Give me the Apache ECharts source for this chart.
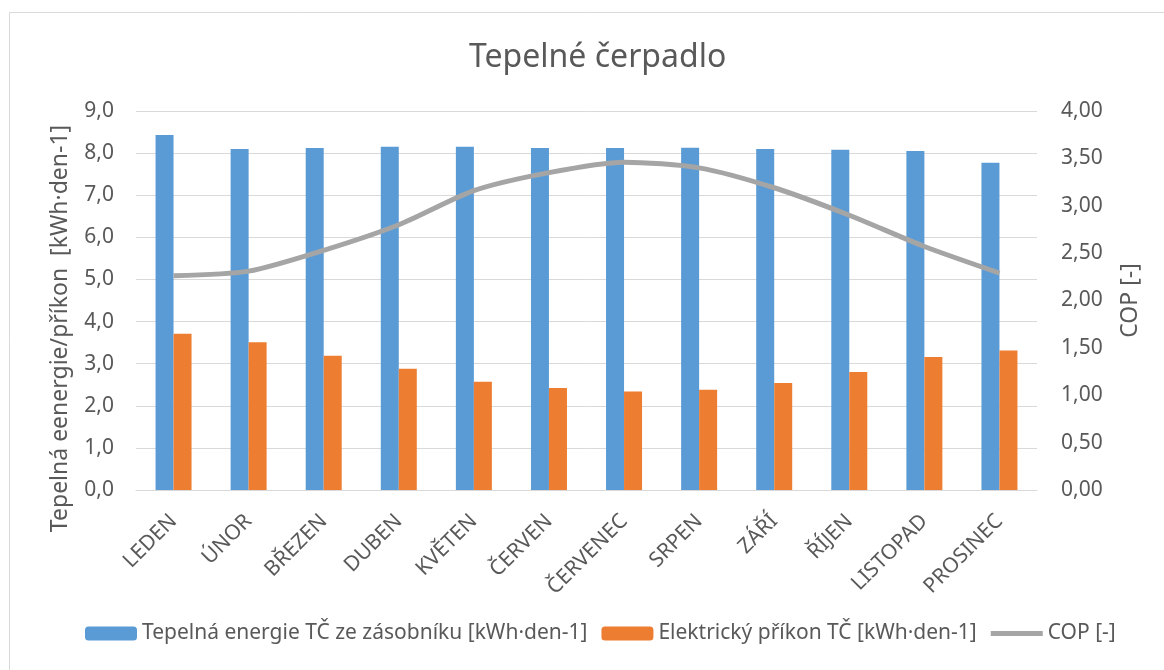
<!DOCTYPE html>
<html>
<head>
<meta charset="utf-8">
<script src="https://cdn.jsdelivr.net/npm/echarts@6/dist/echarts.min.js"></script>
<style>
  html, body { margin: 0; padding: 0; background: #fff; }
  #chart { width: 1164px; height: 670px; }
</style>
</head>
<body>
<div id="chart"></div>
<script>
const months = ['LEDEN', 'ÚNOR', 'BŘEZEN', 'DUBEN', 'KVĚTEN', 'ČERVEN', 'ČERVENEC', 'SRPEN', 'ZÁŘÍ', 'ŘÍJEN', 'LISTOPAD', 'PROSINEC']
const heatEnergy = [8.43, 8.10, 8.12, 8.15, 8.15, 8.12, 8.12, 8.13, 8.10, 8.08, 8.05, 7.77]
const elecInput = [3.71, 3.51, 3.19, 2.88, 2.57, 2.42, 2.34, 2.38, 2.54, 2.80, 3.16, 3.31]
const cop = [2.26, 2.31, 2.53, 2.80, 3.16, 3.35, 3.46, 3.40, 3.19, 2.90, 2.57, 2.29]

const font = 'Noto Sans'
const textColor = '#595959'
const gridColor = '#D9D9D9'

echarts.init(document.getElementById('chart')).setOption({
  backgroundColor: '#fff',
  textStyle: { fontFamily: font, color: textColor },
  graphic: [{
    type: 'rect',
    shape: { x: 9.5, y: 12.5, width: 1200, height: 700 },
    style: { fill: 'none', stroke: gridColor, lineWidth: 1 },
    silent: true
  }],
  title: {
    text: 'Tepelné čerpadlo',
    left: 464,
    top: 37,
    textStyle: { fontFamily: font, fontSize: 32, fontWeight: 'normal', color: textColor }
  },
  legend: {
    bottom: 21,
    left: 80,
    itemWidth: 52,
    itemHeight: 14,
    itemGap: 14,
    textStyle: { fontFamily: font, fontSize: 21, color: textColor },
    data: [
      'Tepelná energie TČ ze zásobníku [kWh·den-1]',
      'Elektrický příkon TČ [kWh·den-1]',
      { name: 'COP [-]', icon: 'path://M0,0 L52,0 L52,5 L0,5 Z' }
    ]
  },
  grid: { left: 136, right: 127, top: 111, bottom: 180 },
  xAxis: {
    type: 'category',
    data: months,
    axisLine: { lineStyle: { color: gridColor, width: 1 } },
    axisTick: { show: false },
    axisLabel: { rotate: 45, margin: 28, fontSize: 21, color: textColor, fontFamily: font }
  },
  yAxis: [{
    type: 'value',
    min: 0,
    max: 9,
    interval: 1,
    name: 'Tepelná eenergie/příkon  [kWh·den-1]',
    nameLocation: 'middle',
    nameGap: 64,
    nameTextStyle: { fontSize: 23, color: textColor, fontFamily: font, padding: [0, 56, 0, 0] },
    axisLine: { show: false },
    axisTick: { show: false },
    axisLabel: { fontSize: 21, margin: 22, color: textColor, fontFamily: font, formatter: v => v.toFixed(1).replace('.', ',') },
    splitLine: { lineStyle: { color: gridColor, width: 1 } }
  }, {
    type: 'value',
    min: 0,
    max: 4,
    interval: 0.5,
    name: 'COP [-]',
    nameLocation: 'middle',
    nameRotate: 90,
    nameGap: 82,
    nameTextStyle: { fontSize: 23, color: textColor, fontFamily: font },
    axisLine: { show: false },
    axisTick: { show: false },
    axisLabel: { fontSize: 21, margin: 24, color: textColor, fontFamily: font, formatter: v => v.toFixed(2).replace('.', ',') },
    splitLine: { show: false }
  }],
  series: [{
    name: 'Tepelná energie TČ ze zásobníku [kWh·den-1]',
    type: 'bar',
    data: heatEnergy,
    barWidth: 18,
    barGap: '0%',
    itemStyle: { color: '#5B9BD5' }
  }, {
    name: 'Elektrický příkon TČ [kWh·den-1]',
    type: 'bar',
    data: elecInput,
    barWidth: 18,
    itemStyle: { color: '#ED7D31' }
  }, {
    name: 'COP [-]',
    type: 'line',
    yAxisIndex: 1,
    data: cop,
    smooth: 0.25,
    showSymbol: false,
    symbol: 'none',
    lineStyle: { color: '#A5A5A5', width: 5 },
    itemStyle: { color: '#A5A5A5' }
  }]
})
</script>
</body>
</html>
